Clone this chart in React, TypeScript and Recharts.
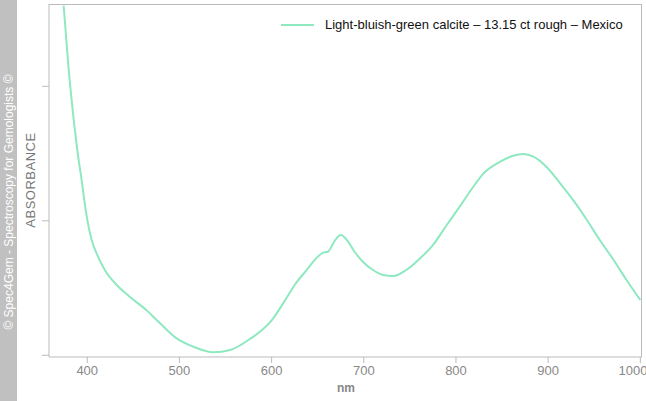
import React from 'react'
import { Line, LineChart, XAxis, YAxis } from 'recharts'

const wavelengths = [
  374.4, 379.4, 386, 389.2, 393.9, 398.3, 404.8, 410, 419, 432, 446, 464, 479,
  497, 515, 537, 555, 576, 600, 616, 625, 638, 650, 656, 661, 669, 675, 683,
  690, 699, 710, 721, 732, 746, 761, 775, 790, 804, 815, 830, 848, 862, 873,
  884, 898, 913, 927, 942, 956, 971, 985, 1000,
]
const absorbance = [
  2.6, 2.16, 1.71, 1.526, 1.303, 1.08, 0.857, 0.76, 0.634, 0.523, 0.436, 0.337,
  0.238, 0.126, 0.064, 0.022, 0.039, 0.119, 0.26, 0.424, 0.523, 0.634, 0.733,
  0.763, 0.77, 0.857, 0.894, 0.845, 0.77, 0.696, 0.634, 0.597, 0.59, 0.634,
  0.721, 0.82, 0.969, 1.105, 1.216, 1.353, 1.44, 1.484, 1.497, 1.477, 1.402,
  1.279, 1.155, 1.006, 0.857, 0.709, 0.56, 0.411,
]
const xTicks = [400, 500, 600, 700, 800, 900, 1000]
const yTicks = [0, 1, 2]
const seriesName = 'Light-bluish-green calcite – 13.15 ct rough – Mexico'

const data = wavelengths.map((nm, i) => ({ nm, value: absorbance[i] }))

const font = '"Liberation Sans", Arial, sans-serif'
const axisColor = '#bbbbbb'
const lineColor = '#8ee8c0'

export default function App() {
  return (
    <div style={{ position: 'absolute', left: 0, top: 0, width: 646, height: 401, background: '#fff', overflow: 'hidden' }}>
      <div style={{ position: 'absolute', left: 0, top: 0, width: 17, height: 401, background: '#c0c0c0' }} />
      <div
        style={{
          position: 'absolute', left: 8.5, top: 202, transform: 'translate(-50%, -50%) rotate(-90deg)',
          whiteSpace: 'nowrap', color: '#fff', fontFamily: font, fontSize: 12,
        }}
      >
        © Spec4Gem - Spectroscopy for Gemologists ©
      </div>
      <div
        style={{
          position: 'absolute', left: 30, top: 180, transform: 'translate(-50%, -50%) rotate(-90deg)',
          whiteSpace: 'nowrap', color: '#777', fontFamily: font, fontSize: 13, letterSpacing: 0.5,
        }}
      >
        ABSORBANCE
      </div>
      <div
        style={{
          position: 'absolute', left: 346, top: 388, transform: 'translate(-50%, -50%)',
          color: '#888', fontFamily: font, fontSize: 12, fontWeight: 'bold',
        }}
      >
        nm
      </div>
      {/* frame: top and right edges of the plot box */}
      <div style={{ position: 'absolute', left: 49, top: 4, width: 593, height: 353, borderTop: `1px solid ${axisColor}`, borderRight: `1px solid ${axisColor}`, boxSizing: 'border-box' }} />
      <div
        style={{
          position: 'absolute', left: 281, top: 17, display: 'flex', alignItems: 'center',
          fontFamily: font, fontSize: 13, color: '#111', whiteSpace: 'nowrap', zIndex: 2,
        }}
      >
        <svg width={33} height={4} style={{ marginRight: 11 }}>
          <line x1={0} y1={2} x2={33} y2={2} stroke={lineColor} strokeWidth={2} />
        </svg>
        <span>{seriesName}</span>
      </div>
      <LineChart width={646} height={401} data={data} margin={{ top: 4, right: 4, bottom: 0, left: 0 }}>
        <XAxis
          dataKey="nm"
          type="number"
          domain={[358.5, 1001.8]}
          ticks={xTicks}
          allowDataOverflow
          height={44}
          stroke={axisColor}
          tickSize={6}
          tick={{ fill: '#888', fontSize: 13, fontFamily: font, dy: 1 }}
        />
        <YAxis
          type="number"
          domain={[-0.0126, 2.612]}
          ticks={yTicks}
          allowDataOverflow
          width={49}
          stroke={axisColor}
          tickSize={7}
          tickFormatter={() => ''}
        />
        <Line
          type="monotone"
          dataKey="value"
          name={seriesName}
          stroke={lineColor}
          strokeWidth={2}
          dot={false}
          isAnimationActive={false}
        />
      </LineChart>
    </div>
  )
}
